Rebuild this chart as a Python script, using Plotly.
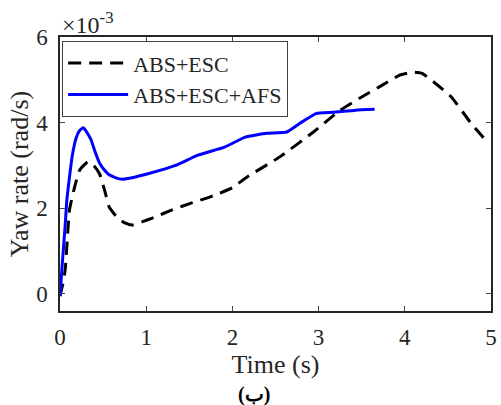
import plotly.graph_objects as go

# Time (s) and yaw rate (x1e-3 rad/s)
t_esc = [0.0, 0.03, 0.06, 0.11, 0.17, 0.23, 0.32, 0.39, 0.46, 0.52, 0.57, 0.67, 0.76, 0.84, 0.95, 1.07, 1.3, 1.52, 1.75, 2.0, 2.17, 2.55, 2.94, 3.25, 3.5, 3.7, 3.93, 4.1, 4.2, 4.31, 4.54, 4.77, 4.92]
y_esc = [-0.05, 0.2, 0.56, 1.96, 2.5, 2.9, 3.08, 3.0, 2.8, 2.4, 2.03, 1.77, 1.65, 1.61, 1.68, 1.77, 1.96, 2.12, 2.27, 2.48, 2.73, 3.2, 3.78, 4.29, 4.6, 4.83, 5.1, 5.18, 5.15, 4.99, 4.6, 3.98, 3.63]

t_afs = [0.0, 0.03, 0.06, 0.08, 0.14, 0.19, 0.23, 0.27, 0.31, 0.36, 0.41, 0.46, 0.52, 0.57, 0.65, 0.72, 0.85, 1.03, 1.34, 1.6, 1.91, 2.15, 2.4, 2.63, 2.78, 2.97, 3.17, 3.43, 3.65]
y_afs = [-0.05, 0.8, 1.6, 2.2, 3.2, 3.66, 3.82, 3.88, 3.78, 3.6, 3.3, 3.05, 2.88, 2.78, 2.71, 2.68, 2.72, 2.81, 3.0, 3.24, 3.43, 3.66, 3.75, 3.78, 3.98, 4.21, 4.24, 4.29, 4.31]

x_ticks = [0, 1, 2, 3, 4, 5]
y_ticks = [0, 2, 4, 6]

font = "Liberation Serif, Times New Roman, serif"

fig = go.Figure()
fig.add_trace(go.Scatter(x=t_esc, y=y_esc, mode="lines", name="ABS+ESC",
                         line=dict(color="black", width=3, dash="13px,8px", shape="spline", smoothing=0.4)))
fig.add_trace(go.Scatter(x=t_afs, y=y_afs, mode="lines", name="ABS+ESC+AFS",
                         line=dict(color="#0000ff", width=3, shape="spline", smoothing=0.4)))

fig.update_layout(
    width=501, height=405,
    margin=dict(l=60, r=4, t=37, b=94),
    paper_bgcolor="white", plot_bgcolor="white",
    font=dict(family=font, size=23, color="#262626"),
    showlegend=True,
    legend=dict(x=0.005, y=0.985, xanchor="left", yanchor="top",
                bgcolor="white", bordercolor="#404040", borderwidth=1,
                font=dict(family=font, size=22, color="#262626"),
                itemwidth=60, tracegroupgap=0),
    xaxis=dict(range=[0, 5], tickvals=x_ticks, ticks="inside", ticklen=5,
               showline=True, linecolor="#262626", linewidth=1.5, mirror="ticks",
               showgrid=False, zeroline=False, ticklabelstandoff=5,
               title=dict(text="Time (s)", font=dict(size=26), standoff=0),
               tickfont=dict(size=23)),
    yaxis=dict(range=[-0.4, 6], tickvals=y_ticks, ticks="inside", ticklen=5,
               showline=True, linecolor="#262626", linewidth=1.5, mirror="ticks",
               showgrid=False, zeroline=False, ticklabelstandoff=6,
               title=dict(text="Yaw rate (rad/s)", font=dict(size=26), standoff=0),
               tickfont=dict(size=23)),
    annotations=[
        dict(text="×10<sup>-3</sup>", x=0, y=1.0, xref="paper", yref="paper",
             xanchor="left", yanchor="bottom", showarrow=False, yshift=-3,
             font=dict(family=font, size=24, color="#262626")),
        dict(text="<b>(ب)</b>", x=0.45, y=0, xref="paper", yref="paper",
             xanchor="center", yanchor="top", showarrow=False, yshift=-70,
             font=dict(family=font, size=20, color="black")),
    ],
)

fig.write_html("out.html")
